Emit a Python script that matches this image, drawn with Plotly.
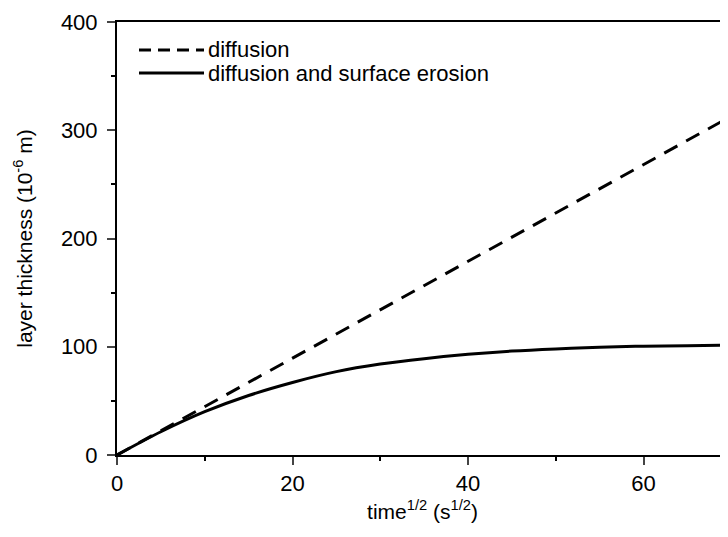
import plotly.graph_objects as go

# Data
diff_x = [0, 10, 20, 30, 40, 50, 60, 70]
diff_y = [0, 44.7, 89.4, 134, 179, 223.5, 268, 313]

erosion_x = [0, 5, 10, 15, 20, 25, 30, 35, 40, 45, 50, 55, 60, 65, 70]
erosion_y = [0, 21.5, 40, 55, 67, 77, 84, 89, 93, 96, 98, 99.5, 100.5, 101, 101.5]

x_ticks = [0, 20, 40, 60]
y_ticks = [0, 100, 200, 300, 400]

series_names = ["diffusion", "diffusion and surface erosion"]
series_dash = ["15px,10px", "solid"]
legend_dash = ["12px,7px", "solid"]

FONT = "Liberation Sans, Arial, sans-serif"

# The page body adds an 8px offset, so the figure is sized to fill the window exactly
W, H = 720, 529
L, R, T, B = 109, 0, 14, 82
pw, ph = W - L - R, H - T - B

def px(x):
    return (x - 8 - L) / pw

def py(y):
    return (H - B - (y - 8)) / ph

fig = go.Figure()
fig.add_trace(go.Scatter(x=diff_x, y=diff_y, mode="lines", name=series_names[0],
                         line=dict(color="black", width=3, dash=series_dash[0])))
fig.add_trace(go.Scatter(x=erosion_x, y=erosion_y, mode="lines", name=series_names[1],
                         line=dict(color="black", width=3, shape="spline")))

# Legend drawn in paper coordinates (long line samples as in the reference)
legend_rows = [50, 73]
for name, dash, yrow in zip(series_names, legend_dash, legend_rows):
    fig.add_shape(type="line", xref="paper", yref="paper",
                  x0=px(139), x1=px(204), y0=py(yrow), y1=py(yrow),
                  line=dict(color="black", width=3, dash=dash))
    fig.add_annotation(text=name, xref="paper", yref="paper",
                       x=px(206), y=py(yrow), xanchor="left", yanchor="middle",
                       showarrow=False, font=dict(size=22, family=FONT, color="black"))

fig.update_layout(
    width=W, height=H,
    margin=dict(l=L, r=R, t=T, b=B),
    paper_bgcolor="white", plot_bgcolor="white",
    font=dict(family=FONT, size=20, color="black"),
    showlegend=False,
)
fig.update_xaxes(
    range=[0, 69.63], tickvals=x_ticks, ticks="outside", ticklen=8, tickwidth=2,
    showline=True, linecolor="black", linewidth=2, mirror=True,
    showgrid=False, zeroline=False, automargin=False,
    minor=dict(dtick=10, ticks="outside", ticklen=4, tickwidth=2, tickcolor="black"),
    title=dict(text="time<sup>1/2</sup> (s<sup>1/2</sup>)", font=dict(size=21), standoff=9),
    tickfont=dict(size=22), ticklabelstandoff=0,
)
fig.update_yaxes(
    range=[0, 400], tickvals=y_ticks, ticks="outside", ticklen=8, tickwidth=2,
    showline=True, linecolor="black", linewidth=2, mirror=False,
    showgrid=False, zeroline=False, automargin=False,
    minor=dict(dtick=50, ticks="outside", ticklen=4, tickwidth=2, tickcolor="black"),
    title=dict(text="layer thickness (10<sup>-6</sup> m)", font=dict(size=21), standoff=23),
    tickfont=dict(size=22), ticklabelstandoff=5,
)

fig.write_html("out.html")
